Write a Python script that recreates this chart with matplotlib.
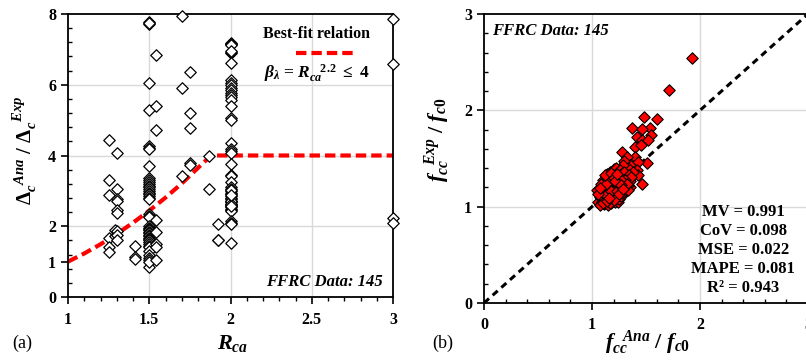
import matplotlib.pyplot as plt
from matplotlib.ticker import MultipleLocator
import numpy as np

plt.rcParams['font.family'] = ['Liberation Serif', 'DejaVu Serif']
plt.rcParams['font.weight'] = 'bold'
plt.rcParams['mathtext.fontset'] = 'custom'
plt.rcParams['mathtext.rm'] = 'Liberation Serif:bold'
plt.rcParams['mathtext.it'] = 'Liberation Serif:bold:italic'
plt.rcParams['mathtext.bf'] = 'Liberation Serif:bold'

# (a) ratio of analytical to experimental ultimate strain, grouped by R_ca
rca_levels = [1.25, 1.29, 1.3, 1.41, 1.5, 1.54, 1.7, 1.75, 1.87, 1.92, 2.0, 3.0]
ratio_by_level = [
    [4.43, 3.30, 2.88, 1.68, 1.41, 1.27],
    [1.88, 1.72],
    [4.06, 3.04, 2.78, 2.72, 2.46, 2.37, 1.86, 1.76, 1.60],
    [1.44, 1.12, 1.07],
    [7.77, 7.72, 7.74, 6.06, 5.28, 4.26, 4.22, 4.18, 3.70,
     3.35, 3.30, 3.25, 3.20, 3.15, 3.10, 3.05, 3.00, 2.95, 2.90, 2.85, 2.80, 2.78,
     2.36, 2.30, 2.26, 2.00, 1.96, 1.92, 1.88, 1.84, 1.80, 1.76, 1.72, 1.68,
     1.64, 1.60, 1.55, 1.50, 1.45, 1.40, 1.30, 1.20, 1.10, 1.05, 0.85, 1.00],
    [6.84, 5.40, 4.72, 2.17, 1.84, 1.51, 1.42, 1.04],
    [7.94, 5.92, 3.42],
    [6.35, 5.20, 4.78, 3.79, 3.73],
    [3.98, 3.04],
    [2.06, 1.62, 1.60],
    [7.19, 7.16, 7.14, 7.12, 6.89, 6.92, 6.62, 6.13, 6.05, 5.98,
     5.90, 5.84, 5.78, 5.72, 5.65, 5.58, 5.40, 5.05, 5.00, 4.36,
     4.18, 4.12, 4.06, 3.77, 3.45, 3.42, 3.25, 3.10, 3.05, 3.00,
     2.95, 2.90, 2.85, 2.80, 2.76, 2.72, 2.68, 2.64, 2.60, 2.57,
     2.54, 2.50, 2.46, 2.42, 2.15, 2.10, 2.06, 1.53, 2.70, 2.62,
     2.58, 3.02, 2.88, 6.95],
    [7.85, 6.58, 2.22, 2.09],
]

# best-fit curve
fit_rca = [1.0, 1.1, 1.2, 1.3, 1.4, 1.5, 1.6, 1.7, 1.8, 1.88, 2.0, 2.5, 3.0]
fit_beta = [1.0, 1.23, 1.49, 1.78, 2.10, 2.44, 2.81, 3.21, 3.65, 4.0, 4.0, 4.0, 4.0]

# (b) normalised confined strength, analytical vs experimental
fcc_ana = [1.93, 1.71, 1.60, 1.48, 1.54, 1.37, 1.46, 1.55, 1.42, 1.46,
           1.52, 1.40, 1.45, 1.28, 1.40, 1.32, 1.51, 1.43, 1.35, 1.42,
           1.43, 1.46, 1.35, 1.26, 1.30, 1.33, 1.38, 1.29,
           1.05, 1.08, 1.11, 1.06, 1.07, 1.08, 1.09, 1.10, 1.10, 1.11,
           1.12, 1.12, 1.12, 1.13, 1.13, 1.14, 1.14, 1.15, 1.15, 1.15,
           1.16, 1.16, 1.17, 1.17, 1.17, 1.18, 1.18, 1.18, 1.19, 1.19,
           1.20, 1.20, 1.20, 1.21, 1.21, 1.21, 1.22, 1.22, 1.22, 1.23,
           1.23, 1.24, 1.24, 1.24, 1.25, 1.25, 1.26, 1.26, 1.26, 1.27,
           1.27, 1.28, 1.28, 1.29, 1.30, 1.30, 1.31, 1.32, 1.33, 1.34,
           1.35, 1.36, 1.10, 1.09, 1.07, 1.13, 1.14, 1.16, 1.18, 1.19,
           1.20, 1.21, 1.23, 1.25, 1.27, 1.11, 1.12, 1.14, 1.16, 1.17,
           1.19, 1.22, 1.24, 1.26, 1.28, 1.29, 1.31, 1.33, 1.08, 1.09,
           1.10, 1.11, 1.13, 1.15, 1.17, 1.18, 1.20, 1.22, 1.23, 1.25,
           1.27, 1.30, 1.32, 1.15, 1.13, 1.12, 1.14, 1.16, 1.18, 1.20,
           1.21, 1.23, 1.25, 1.27, 1.29, 1.06, 1.07]
fcc_exp = [2.54, 2.21, 1.91, 1.93, 1.82, 1.82, 1.81, 1.74, 1.72, 1.69,
           1.69, 1.62, 1.64, 1.57, 1.52, 1.52, 1.45, 1.46, 1.43, 1.38,
           1.33, 1.24, 1.20, 1.22, 1.47, 1.40, 1.36, 1.43,
           1.17, 1.07, 1.03, 1.05, 1.10, 1.14, 1.19, 1.22, 1.12, 1.08,
           1.05, 1.15, 1.26, 1.30, 1.20, 1.10, 1.34, 1.02, 1.12, 1.25,
           1.18, 1.06, 1.29, 1.36, 1.14, 1.09, 1.22, 1.04, 1.32, 1.17,
           1.39, 1.26, 1.11, 1.05, 1.20, 1.33, 1.40, 1.15, 1.08, 1.28,
           1.22, 1.36, 1.12, 1.05, 1.30, 1.18, 1.25, 1.10, 1.38, 1.34,
           1.16, 1.21, 1.29, 1.13, 1.25, 1.36, 1.19, 1.30, 1.23, 1.33,
           1.27, 1.31, 1.28, 1.05, 1.02, 1.09, 1.27, 1.31, 1.27, 1.24,
           1.19, 1.13, 1.09, 1.08, 1.11, 1.18, 1.21, 1.16, 1.23, 1.20,
           1.07, 1.25, 1.20, 1.16, 1.14, 1.26, 1.28, 1.17, 1.24, 1.11,
           1.04, 1.13, 1.12, 1.20, 1.04, 1.16, 1.07, 1.31, 1.16, 1.24,
           1.28, 1.20, 1.24, 1.29, 1.24, 1.33, 1.06, 1.09, 1.35, 1.30,
           1.27, 1.34, 1.13, 1.22, 1.18, 1.13, 1.19]

stats_text = 'MV = 0.991\nCoV = 0.098\nMSE = 0.022\nMAPE = 0.081\nR\u00b2 = 0.943'

W, H = 806, 362
fig = plt.figure(figsize=(W / 100, H / 100), dpi=100)

def frac(x0, x1, ytop, ybot):
    return [x0 / W, 1 - ybot / H, (x1 - x0) / W, (ybot - ytop) / H]

grid_kw = dict(color='#d9d9d9', lw=1, zorder=0)

# ---------- (a) ----------
ax1 = fig.add_axes(frac(68, 393, 14, 297))
for lev, vals in zip(rca_levels, ratio_by_level):
    ax1.scatter([lev] * len(vals), vals, marker='D', s=34, facecolor='white',
                edgecolor='black', linewidth=0.9, zorder=3, clip_on=False)
ax1.plot(fit_rca, fit_beta, color='#ff0000', lw=3, dashes=(2.5, 1.2), zorder=2)
ax1.set_xlim(1, 3)
ax1.set_ylim(0, 8)
for v in [1.5, 2.0, 2.5]:
    ax1.axvline(v, **grid_kw)
for v in [2, 4, 6]:
    ax1.axhline(v, **grid_kw)
ax1.set_xticks([1, 1.5, 2, 2.5, 3])
ax1.set_xticklabels(['1', '1.5', '2', '2.5', '3'])
ax1.set_yticks([0, 1, 2, 4, 6, 8])
ax1.xaxis.set_minor_locator(MultipleLocator(0.1))
ax1.yaxis.set_minor_locator(MultipleLocator(0.4))
ax1.tick_params(which='major', direction='out', length=5, width=1.2, labelsize=11.5)
ax1.tick_params(axis='x', which='major', pad=6)
ax1.tick_params(axis='y', which='minor', direction='in', length=3, width=1)
ax1.tick_params(axis='x', which='minor', direction='out', length=3, width=1)
for s in ax1.spines.values():
    s.set_linewidth(1.3)

ax1.text(0.766, 0.929, 'Best-fit relation', transform=ax1.transAxes,
         ha='center', va='center', fontsize=11.5, fontweight='bold')
ax1.plot([0.702, 0.877], [0.863, 0.863], transform=ax1.transAxes,
         color='#ff0000', lw=3, dashes=(2.5, 1.2))
ax1.text(0.766, 0.792, r'$\beta_{\lambda}$ = $R_{ca}^{\ \ \ 2.2}$ $\leq$ $\mathrm{4}$',
         transform=ax1.transAxes, ha='center', va='center', fontsize=12.5)
ax1.text(0.969, 0.053, 'FFRC Data: 145', transform=ax1.transAxes, ha='right',
         va='center', fontsize=12, fontweight='bold', fontstyle='italic')

fig.text(233 / W, 1 - 343 / H, r'$R_{ca}$', ha='center', va='center', fontsize=16)
fig.text(25 / W, 1 - 150 / H, r'$\mathit{\Delta}_{c}^{\ \ Ana}$ / $\mathit{\Delta}_{c}^{\ \ Exp}$',
         ha='center', va='center', rotation=90, fontsize=15)
fig.text(22 / W, 1 - 343 / H, '(a)', ha='center', va='center', fontsize=13,
         fontweight='normal')

# ---------- (b) ----------
ax2 = fig.add_axes(frac(484, 808, 14, 303))
ax2.plot([0, 3], [0, 3], color='black', lw=2.2, dashes=(2.2, 1.6), zorder=2)
ax2.scatter(fcc_ana, fcc_exp, marker='D', s=34, facecolor='#ff0000',
            edgecolor='black', linewidth=0.8, zorder=3)
ax2.set_xlim(0, 3)
ax2.set_ylim(0, 3)
for v in [1, 2]:
    ax2.axvline(v, **grid_kw)
    ax2.axhline(v, **grid_kw)
ax2.set_xticks([0, 1, 2, 3])
ax2.set_yticks([0, 1, 2, 3])
ax2.xaxis.set_minor_locator(MultipleLocator(0.2))
ax2.yaxis.set_minor_locator(MultipleLocator(0.2))
ax2.tick_params(which='major', direction='out', length=5, width=1.2, labelsize=11.5)
ax2.tick_params(axis='x', which='major', pad=5)
ax2.tick_params(which='minor', direction='in', length=3, width=1)
for s in ax2.spines.values():
    s.set_linewidth(1.3)

ax2.text(0.025, 0.941, 'FFRC Data: 145', transform=ax2.transAxes, ha='left',
         va='center', fontsize=12, fontweight='bold', fontstyle='italic')
ax2.text(0.80, 0.183, stats_text, transform=ax2.transAxes, ha='center',
         va='center', fontsize=12, fontweight='bold', linespacing=1.25)

fig.text(648 / W, 1 - 343 / H, r'$f_{cc}^{\ \ Ana}$ / $f_{c0}$', ha='center',
         va='center', fontsize=16)
fig.text(437 / W, 1 - 140 / H, r'$f_{cc}^{\ \ Exp}$ / $f_{c0}$', ha='center',
         va='center', rotation=90, fontsize=16)
fig.text(443 / W, 1 - 343 / H, '(b)', ha='center', va='center', fontsize=13,
         fontweight='normal')

fig.savefig('out.png', dpi=100)
